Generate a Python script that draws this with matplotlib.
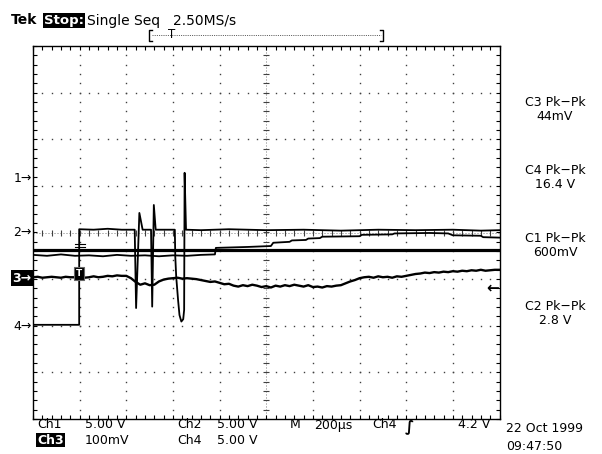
import numpy as np
import matplotlib
matplotlib.use("Agg")
import matplotlib.pyplot as plt
from matplotlib.lines import Line2D

# === Screen geometry (pixels of the 602x454 capture) ===
W, H = 602, 454
GRID_L, GRID_R, GRID_T, GRID_B = 33, 499.5, 46, 419

# === Trace data, in divisions (x: 0..10 div, y: -4..4 div) ===
ch1_t = [0.0, 10.0]
ch1_v = [-0.38, -0.38]

ch2_t = [0.0, 0.3, 0.6, 0.9, 1.2, 1.5, 1.8, 2.1, 2.4, 2.7, 3.0, 3.3, 3.6, 3.9,
         3.92, 4.6, 5.1, 5.15, 5.5, 5.55, 5.85, 5.9, 6.15, 6.2, 7.0, 7.05,
         7.7, 7.75, 8.5, 8.9, 9.0, 9.6, 9.65, 10.0]
ch2_v = [-0.48, -0.50, -0.47, -0.50, -0.49, -0.51, -0.48, -0.50, -0.49, -0.51,
         -0.49, -0.50, -0.48, -0.47, -0.33, -0.31, -0.29, -0.22, -0.20, -0.17,
         -0.16, -0.13, -0.12, -0.09, -0.08, -0.05, -0.04, -0.02, -0.01, -0.02,
         -0.06, -0.07, -0.10, -0.11]

ch3_t = np.arange(101) / 10.0
ch3_v = [-0.96, -0.95, -0.97, -0.96, -0.95, -0.96, -0.97, -0.95, -0.96, -0.96,
         -0.95, -0.97, -0.96, -0.94, -0.96, -0.95, -0.93, -0.94, -0.92, -0.93,
         -0.93, -0.98, -1.06, -1.12, -1.09, -1.13, -1.12, -1.05, -1.01, -0.99,
         -0.98, -0.97, -0.99, -0.98, -0.99, -1.00, -1.02, -1.04, -1.06, -1.05,
         -1.08, -1.11, -1.10, -1.14, -1.16, -1.13, -1.15, -1.12, -1.14, -1.17,
         -1.15, -1.18, -1.14, -1.16, -1.13, -1.15, -1.12, -1.14, -1.16, -1.13,
         -1.17, -1.16, -1.18, -1.15, -1.16, -1.14, -1.13, -1.09, -1.05, -1.02,
         -0.98, -0.96, -0.95, -0.97, -0.94, -0.96, -0.95, -0.97, -0.94, -0.95,
         -0.93, -0.91, -0.89, -0.88, -0.86, -0.87, -0.85, -0.86, -0.84, -0.85,
         -0.83, -0.84, -0.82, -0.83, -0.81, -0.82, -0.80, -0.82, -0.81, -0.80,
         -0.80]

ch4_t = [0.00, 0.99, 0.99, 1.30, 1.60, 1.90, 2.18, 2.21, 2.28, 2.35,
         2.53, 2.555, 2.59, 2.63, 3.04, 3.05, 3.07, 3.11, 3.14, 3.18,
         3.22, 3.24, 3.25, 3.28, 3.6, 4.2, 5.0, 5.8, 6.6, 7.4,
         8.2, 9.0, 9.6, 10.0]
ch4_v = [-1.98, -1.98, 0.07, 0.06, 0.08, 0.06, 0.06, -1.62, 0.42, 0.06,
         0.06, -1.59, 0.59, 0.06, 0.06, -0.52, -0.95, -1.45, -1.77, -1.91,
         -1.86, -1.66, 1.28, 0.06, 0.05, 0.07, 0.05, 0.06, 0.04, 0.06,
         0.05, 0.06, 0.04, 0.05]

# channel ground markers on the left edge (div) and trigger info
marker_names = ["1", "2", "3", "4"]
marker_levels = [1.16, 0.0, -0.98, -2.02]
trig_time = 0.99
trig_level = -1.18

# === Readout texts ===
meas_names = ["C3 Pk\u2212Pk", "C4 Pk\u2212Pk", "C1 Pk\u2212Pk", "C2 Pk\u2212Pk"]
meas_values = ["44mV", "16.4 V", "600mV", "2.8 V"]
meas_rows = [103, 171, 239, 307]

FONT = "DejaVu Sans"
FS = 9


def fx(x):
    return x / W


def fy(y):
    return 1 - y / H


fig = plt.figure(figsize=(W / 100, H / 100), dpi=100)
fig.patch.set_facecolor("white")

ax = fig.add_axes([fx(GRID_L), fy(GRID_B), (GRID_R - GRID_L) / W, (GRID_B - GRID_T) / H])
ax.set_xlim(0, 10)
ax.set_ylim(-4, 4)

# === Graticule ===
xt = np.arange(0, 10.001, 0.2)
yt = np.arange(-4, 4.001, 0.2)
ax.set_xticks(xt)
ax.set_yticks(yt)
ax.tick_params(direction="in", length=3, width=0.8, top=True, right=True,
               labelbottom=False, labelleft=False, color="black")
for s in ax.spines.values():
    s.set_linewidth(1.0)

for gx in range(1, 10):
    if gx != 5:
        ax.plot(np.full(len(yt), gx), yt, ls="none", marker="s", ms=1.0,
                mec="none", mfc="0.25", zorder=1)
for gy in range(-3, 4):
    if gy != 0:
        ax.plot(xt, np.full(len(xt), gy), ls="none", marker="s", ms=1.0,
                mec="none", mfc="0.25", zorder=1)

ax.axvline(5, color="0.5", lw=0.72, ls=(0, (1, 2)), zorder=1)
ax.axhline(0, color="0.5", lw=0.72, ls=(0, (1, 2)), zorder=1)
ax.plot(np.full(len(yt), 5), yt, ls="none", marker="_", ms=4, mew=0.8, color="0.25", zorder=1)
ax.plot(xt, np.zeros(len(xt)), ls="none", marker="|", ms=4, mew=0.8, color="0.25", zorder=1)

# === Traces ===
ax.plot(ch1_t, ch1_v, color="black", lw=2.3, zorder=3)
ax.plot(ch2_t, ch2_v, color="black", lw=1.3, zorder=3)
ax.plot(ch3_t, ch3_v, color="black", lw=1.7, zorder=3)
ax.plot(ch4_t, ch4_v, color="black", lw=1.3, zorder=4)

# trigger position box and level marks
ax.text(trig_time, -0.88, "T", fontsize=6.5, fontweight="bold", color="white",
        ha="center", va="center", family=FONT, zorder=5,
        bbox=dict(facecolor="black", edgecolor="0.4", pad=1.2, lw=0.8))
ax.plot([trig_time - 0.08, trig_time + 0.12], [-0.25, -0.25], color="black", lw=0.8, zorder=5)
ax.plot([trig_time - 0.08, trig_time + 0.12], [-0.32, -0.32], color="black", lw=0.8, zorder=5)
ax.text(0.998, trig_level, "\u2190", transform=ax.get_yaxis_transform(), fontsize=11,
        fontweight="bold", ha="right", va="center", family=FONT, zorder=5)

# channel markers left of the graticule
ytr = ax.get_yaxis_transform()
for name, lvl in zip(marker_names, marker_levels):
    if name == "3":
        ax.text(-0.003, lvl, "3\u2192", transform=ytr, fontsize=FS, fontweight="bold",
                color="white", ha="right", va="center", family=FONT, clip_on=False,
                bbox=dict(facecolor="black", edgecolor="none", pad=1.0))
    else:
        ax.text(-0.003, lvl, name + "\u2192", transform=ytr, fontsize=FS,
                ha="right", va="center", family=FONT, clip_on=False)

# === Header ===
fig.text(fx(11), fy(20.5), "Tek", fontsize=10, fontweight="bold", va="center", family=FONT)
fig.text(fx(44), fy(20.5), "Stop:", fontsize=9.5, fontweight="bold", color="white",
         va="center", family=FONT, bbox=dict(facecolor="black", edgecolor="none", pad=0.8))
fig.text(fx(87), fy(20.5), "Single Seq", fontsize=10, va="center", family=FONT)
fig.text(fx(173), fy(20.5), "2.50MS/s", fontsize=10, va="center", family=FONT)

# record position bracket
fig.add_artist(Line2D([fx(152), fx(381)], [fy(35), fy(35)], color="0.35", lw=0.72,
                      ls=(0, (1, 1.2))))
for bx, edge in ((149, "left"), (383, "right")):
    d = 3 if edge == "left" else -3
    fig.add_artist(Line2D([fx(bx + d), fx(bx), fx(bx), fx(bx + d)],
                          [fy(30), fy(30), fy(41), fy(41)], color="black", lw=1.0))
fig.text(fx(172), fy(35), "T", fontsize=8.5, ha="center", va="center", family=FONT)

# === Measurement readouts ===
for nm, val, yy in zip(meas_names, meas_values, meas_rows):
    fig.text(fx(555), fy(yy), nm, fontsize=FS, ha="center", va="center", family=FONT)
    fig.text(fx(555), fy(yy + 13), val, fontsize=FS, ha="center", va="center", family=FONT)

# === Bottom status line ===
row1, row2 = 425, 440
bottom1 = [(37, "Ch1"), (85, "5.00 V"), (177, "Ch2"), (217, "5.00 V"), (290, "M"),
           (314, "200\u00b5s"), (372, "Ch4")]
bottom2 = [(85, "100mV"), (177, "Ch4"), (217, "5.00 V")]
for xx, s in bottom1:
    fig.text(fx(xx), fy(row1), s, fontsize=FS, va="center", family=FONT)
fig.text(fx(409), fy(row1 + 1), "\u222b", fontsize=11, fontweight="bold", ha="center",
         va="center", family=FONT)
fig.text(fx(490), fy(row1), "4.2 V", fontsize=FS, ha="right", va="center", family=FONT)
fig.text(fx(37), fy(row2), "Ch3", fontsize=FS, fontweight="bold", color="white", va="center",
         family=FONT, bbox=dict(facecolor="black", edgecolor="none", pad=0.6))
for xx, s in bottom2:
    fig.text(fx(xx), fy(row2), s, fontsize=FS, va="center", family=FONT)

fig.text(fx(506), fy(429), "22 Oct 1999", fontsize=FS, va="center", family=FONT)
fig.text(fx(506), fy(447), "09:47:50", fontsize=FS, va="center", family=FONT)

fig.savefig("out.png", dpi=100, facecolor="white")
